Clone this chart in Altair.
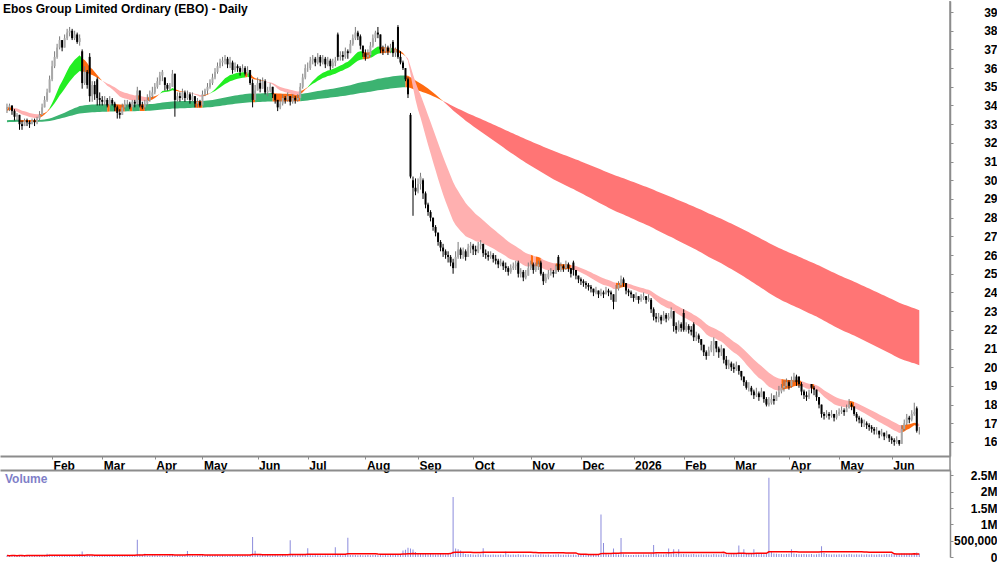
import altair as alt
import pandas as pd
import numpy as np

TITLE = "Ebos Group Limited Ordinary (EBO) - Daily"

# ---- daily bars: (high, low, close), one list per month ----
jan25 = [(34.1,33.6,33.9),(34.1,33.7,34.0),(34.0,33.5,33.7),(33.8,33.2,33.4),(33.6,33.2,33.5),(33.5,32.7,33.0),
         (33.2,32.7,32.9),(33.3,32.9,33.2),(33.3,32.9,33.1),(33.2,32.8,33.0),(33.3,33.0,33.2),(33.3,32.9,33.1),
         (33.4,33.0,33.3),(33.7,33.2,33.5),(34.1,33.5,33.9),(34.5,33.9,34.3),(34.9,34.2,34.7),(35.6,34.7,35.4)]
feb25 = [(36.4,35.3,36.1),(36.9,36.0,36.6),(37.3,36.5,37.1),(37.7,37.0,37.5),(37.5,36.9,37.1),(37.8,37.1,37.6),
         (38.1,37.5,37.9),(38.2,37.7,38.0),(38.1,37.5,37.6),(38.0,37.5,37.8),(37.9,37.3,37.4),(37.8,37.2,37.6),
         (37.0,34.9,35.2),(36.1,35.1,35.8),(35.9,34.9,35.1),(36.8,34.2,34.5),(35.3,34.2,35.1),(35.3,34.3,34.6),
         (35.5,34.0,34.4),(34.7,34.0,34.3)]
mar25 = [(34.5,34.0,34.2),(34.5,34.0,34.3),(34.4,33.9,34.0),(34.5,34.0,34.3),(34.4,34.0,34.1),(34.2,33.7,33.9),
         (34.0,33.3,33.6),(33.8,33.3,33.5),(34.1,33.5,33.9),(34.3,33.8,34.1),(34.3,33.9,34.1),(34.2,33.8,33.9),
         (34.3,33.9,34.2),(34.3,33.9,34.1),(35.0,34.0,34.8),(34.8,33.9,34.0),(34.2,33.8,33.9),(34.3,33.8,34.1),
         (34.6,34.0,34.3),(34.8,34.2,34.5),(35.0,34.4,34.7)]
apr25 = [(35.2,34.6,35.0),(35.5,34.9,35.3),(35.8,35.1,35.6),(35.9,35.3,35.8),(35.5,34.8,35.1),(35.2,34.8,34.9),
         (35.2,34.8,35.0),(35.9,35.5,35.7),(34.6,33.4,34.3),(34.7,34.2,34.5),(34.7,34.2,34.4),(34.9,34.3,34.7),
         (34.8,34.2,34.4),(34.8,34.3,34.6),(34.7,34.1,34.3),(34.7,34.2,34.5),(34.5,33.9,34.1),(34.4,33.9,34.2),
         (34.3,33.9,34.0)]
may25 = [(34.8,34.0,34.6),(34.9,34.5,34.8),(35.2,34.6,35.0),(35.4,34.9,35.2),(35.7,35.1,35.5),(36.0,35.4,35.8),
         (36.3,35.7,36.1),(36.5,36.0,36.3),(36.6,36.1,36.4),(36.7,36.2,36.5),(36.6,36.0,36.2),(36.6,36.0,36.3),
         (36.4,35.7,35.9),(36.3,35.8,36.1),(36.2,35.8,36.0),(36.1,35.6,35.8),(36.2,35.8,36.0),(36.1,35.6,35.7),
         (36.1,35.6,35.9),(35.9,35.1,35.2),(35.4,33.9,34.3),(35.1,34.3,34.8)]
jun25 = [(35.5,34.8,35.2),(35.4,34.7,34.9),(35.5,34.9,35.3),(35.4,34.6,34.7),(35.0,34.5,34.8),(35.2,34.7,35.0),
         (35.0,34.4,34.6),(34.6,34.1,34.3),(34.3,33.7,33.9),(34.3,33.8,34.1),(34.6,34.0,34.4),(34.5,34.1,34.3),
         (34.7,34.2,34.5),(34.5,34.0,34.2),(34.6,34.1,34.4),(34.5,34.1,34.3),(34.6,34.2,34.4),(35.2,34.4,35.0),
         (35.7,34.9,35.5),(36.2,35.4,36.0)]
jul25 = [(36.3,35.8,36.0),(36.6,35.9,36.4),(36.7,36.2,36.5),(36.6,36.1,36.3),(36.8,36.2,36.6),(36.7,36.1,36.3),
         (36.7,36.2,36.5),(36.6,36.0,36.2),(36.6,36.1,36.4),(36.5,35.9,36.1),(36.5,36.0,36.3),(36.6,36.1,36.4),
         (37.9,36.4,36.6),(36.9,36.4,36.7),(36.9,36.4,36.6),(37.1,36.5,36.9),(37.0,36.5,36.8),(37.5,36.8,37.3),
         (37.8,37.2,37.6),(38.2,37.5,37.9),(38.0,37.5,37.7),(37.8,37.0,37.2),(37.2,36.6,36.8)]
aug25 = [(37.0,36.4,36.6),(37.0,36.5,36.7),(37.4,36.6,37.2),(37.8,37.1,37.6),(38.0,37.4,37.9),(38.2,37.6,37.8),
         (37.8,36.8,37.0),(37.2,36.7,36.9),(37.3,36.8,37.1),(37.2,36.7,36.9),(37.3,36.8,37.1),(37.5,36.6,36.8),
         (37.1,36.6,37.0),(38.3,36.5,36.6),(36.9,36.2,36.3),(36.4,35.9,36.0),(36.0,35.3,35.4),(35.5,34.4,34.6),
         (33.6,30.1,30.2),(30.2,28.1,29.6),(30.1,29.2,29.4)]
sep25 = [(30.1,29.3,29.8),(30.4,29.5,30.2),(30.1,29.0,29.3),(29.4,28.5,28.7),(28.8,28.1,28.3),(28.4,27.8,28.0),
         (28.0,27.3,27.5),(27.6,27.0,27.2),(27.2,26.5,26.7),(26.8,26.2,26.4),(26.6,25.9,26.2),(26.3,25.8,26.0),
         (26.2,25.6,25.9),(26.0,25.4,25.6),(25.8,25.0,25.3),(26.2,25.3,25.9),(26.7,25.8,26.3),(26.4,25.8,26.0),
         (26.4,25.8,26.2),(26.3,25.7,25.9),(26.6,25.9,26.4),(26.7,26.1,26.5)]
oct25 = [(26.6,26.0,26.3),(26.5,26.0,26.2),(26.7,26.1,26.5),(26.8,26.3,26.6),(26.6,25.9,26.1),(26.3,25.8,26.0),
         (26.2,25.7,25.9),(26.2,25.8,26.0),(26.1,25.6,25.8),(26.0,25.5,25.7),(25.8,25.3,25.5),(25.8,25.4,25.6),
         (25.7,25.2,25.4),(25.6,25.1,25.3),(25.4,24.9,25.1),(25.5,25.0,25.3),(25.6,25.2,25.4),(25.7,25.2,25.5),
         (25.7,24.8,25.0),(25.3,24.8,25.1),(25.2,24.6,24.8),(25.2,24.7,24.9),(25.6,24.9,25.3)]
nov25 = [(25.7,25.2,25.5),(25.6,25.0,25.2),(25.6,25.1,25.4),(25.7,25.2,25.5),(25.7,24.9,25.0),(25.1,24.4,24.6),
         (25.0,24.5,24.8),(25.2,24.7,25.0),(25.3,24.9,25.1),(25.2,24.8,25.0),(25.5,25.0,25.4),(26.0,25.1,25.2),
         (25.6,25.1,25.4),(25.5,25.1,25.3),(25.7,25.2,25.5),(25.6,25.1,25.3),(25.3,24.8,25.0),(25.7,24.9,25.2),
         (25.2,24.7,24.9),(24.9,24.5,24.7)]
dec25 = [(24.8,24.4,24.6),(24.7,24.3,24.5),(24.6,24.2,24.4),(24.5,24.1,24.3),(24.4,24.0,24.2),(24.2,23.8,24.0),
         (24.3,23.9,24.1),(24.1,23.7,23.9),(24.2,23.8,24.0),(24.1,23.7,23.9),(24.3,23.9,24.1),(24.2,23.8,24.0),
         (24.1,23.6,23.9),(23.9,23.1,23.5),(24.4,23.5,24.2),(24.6,24.1,24.4),(24.9,24.3,24.7),(24.8,24.3,24.5),
         (24.4,23.9,24.1),(24.2,23.8,24.0),(24.1,23.7,23.9)]
jan26 = [(23.9,23.5,23.7),(24.0,23.6,23.8),(23.8,23.4,23.6),(23.9,23.5,23.7),(24.0,23.6,23.8),(23.8,23.4,23.6),
         (23.9,23.5,23.7),(23.7,22.9,23.1),(23.2,22.5,22.7),(22.9,22.4,22.6),(22.9,22.4,22.7),(22.8,22.3,22.5),
         (23.0,22.5,22.8),(22.9,22.4,22.6),(22.9,22.5,22.7),(23.2,22.6,23.0),(23.0,21.9,22.2),(22.4,21.8,22.0),
         (22.5,21.9,22.3),(22.4,21.9,22.1)]
feb26 = [(23.1,21.9,22.0),(22.4,21.9,22.2),(22.3,21.8,22.0),(22.2,21.7,21.9),(22.4,21.4,21.6),(21.9,21.4,21.7),
         (21.8,21.3,21.5),(21.4,20.9,21.2),(21.2,20.6,20.8),(20.9,20.4,20.6),(21.1,20.6,20.9),(21.4,20.8,21.2),
         (21.6,20.6,21.4),(21.4,20.8,21.0),(21.1,20.5,20.8),(21.2,20.6,21.0),(21.0,20.2,20.4),(20.6,19.9,20.1),
         (20.4,19.9,20.2),(20.3,19.8,20.0)]
mar26 = [(20.2,19.7,19.9),(20.3,19.8,20.1),(20.1,19.6,19.8),(19.8,19.3,19.5),(19.5,19.0,19.2),(19.3,18.8,18.9),
         (19.2,18.7,18.9),(19.0,18.5,18.7),(18.8,18.3,18.5),(18.9,18.4,18.6),(18.7,18.2,18.4),(18.9,18.4,18.7),
         (18.7,18.1,18.3),(18.4,17.9,18.0),(18.4,17.9,18.1),(18.6,18.0,18.3),(18.5,18.0,18.2),(18.7,18.2,18.5),
         (19.0,18.4,18.7),(19.1,18.6,18.9),(19.3,18.7,19.0),(19.4,18.9,19.2)]
apr26 = [(19.3,18.8,19.0),(19.5,18.9,19.3),(19.7,19.2,19.5),(19.6,19.0,19.2),(19.5,18.9,19.1),(19.2,18.5,18.7),
         (18.8,18.3,18.5),(18.7,18.2,18.4),(18.8,18.3,18.6),(19.1,18.6,18.9),(19.0,18.5,18.8),(18.8,18.2,18.4),
         (18.4,17.8,18.0),(18.0,17.3,17.5),(17.6,17.2,17.4),(17.7,17.3,17.5),(17.6,17.2,17.4),(17.7,17.3,17.5),
         (17.5,17.1,17.3),(17.7,17.2,17.5)]
may26 = [(17.8,17.4,17.6),(17.9,17.5,17.7),(17.8,17.4,17.6),(18.0,17.6,17.8),(18.3,17.8,18.0),(18.1,17.7,17.9),
         (17.9,17.4,17.5),(17.6,17.1,17.3),(17.4,17.0,17.2),(17.3,16.8,17.0),(17.2,16.8,17.0),(17.1,16.7,16.9),
         (17.0,16.6,16.8),(16.9,16.5,16.7),(16.8,16.4,16.6),(16.8,16.4,16.6),(16.6,16.2,16.4),(16.7,16.3,16.5),
         (16.5,16.1,16.3),(16.6,16.2,16.4),(16.4,16.0,16.2)]
jun26 = [(16.3,15.9,16.1),(16.2,15.8,16.0),(16.3,15.9,16.1),(16.1,15.8,15.9),(16.9,16.1,16.7),(17.2,16.6,17.0),
         (17.5,16.9,17.3),(17.4,17.0,17.2),(17.7,17.1,17.5),(18.1,17.4,17.6),(17.9,16.5,16.6),(16.8,16.4,16.6)]

# opens that gap away from the previous close (bar index -> open)
FIRST_OPEN = 33.8
gap_opens = {30: 36.9, 33: 36.6, 36: 35.4, 63: 35.5, 132: 37.8, 154: 37.4, 156: 38.2, 161: 33.5,
             162: 30.0, 166: 30.0, 204: 25.6, 213: 25.6, 220: 25.9, 226: 25.6, 257: 23.6, 266: 23.0,
             270: 22.9, 274: 22.3, 286: 21.0, 316: 19.5, 321: 19.1, 363: 17.8}

# ---- daily volume (thousands), one list per month ----
vjan25 = [45, 38, 52, 40, 35, 48, 42, 36, 50, 44, 39, 47, 41, 55, 62, 58, 100, 70]
vfeb25 = [65, 58, 52, 48, 60, 55, 47, 50, 62, 45, 72, 85, 170, 60, 78, 55, 50, 46, 58, 52]
vmar25 = [44, 40, 48, 42, 39, 51, 46, 43, 38, 47, 41, 45, 50, 42, 530, 75, 60, 100, 48, 44, 52]
vapr25 = [50, 46, 55, 42, 48, 44, 58, 61, 47, 43, 52, 40, 45, 185, 49, 44, 41, 47, 50]
vmay25 = [52, 48, 55, 60, 46, 58, 50, 44, 53, 47, 42, 56, 49, 45, 51, 43, 48, 54, 46, 62, 610, 190]
vjun25 = [70, 58, 64, 55, 60, 52, 57, 62, 54, 49, 58, 53, 47, 510, 60, 55, 50, 64, 72, 80]
vjul25 = [265, 62, 55, 58, 50, 53, 47, 56, 52, 49, 55, 300, 70, 58, 52, 60, 590, 65, 62, 58, 54, 60, 57]
vaug25 = [55, 58, 52, 60, 64, 57, 62, 55, 59, 53, 61, 66, 58, 72, 95, 200, 220, 280, 260, 230, 150]
vsep25 = [120, 105, 98, 90, 85, 92, 88, 80, 86, 94, 82, 78, 90, 85, 1840, 260, 240, 200, 120, 95, 88, 84]
voct25 = [76, 70, 82, 74, 265, 78, 68, 72, 80, 66, 71, 75, 69, 170, 73, 67, 77, 70, 82, 68, 74, 71, 65]
vnov25 = [72, 66, 78, 70, 85, 74, 68, 73, 65, 70, 76, 82, 69, 72, 67, 75, 71, 80, 68, 74]
vdec25 = [78, 72, 80, 75, 70, 82, 76, 74, 1300, 430, 95, 80, 85, 260, 90, 78, 580, 88, 70, 65, 60]
vjan26 = [62, 68, 70, 66, 74, 72, 78, 95, 370, 110, 85, 80, 76, 90, 260, 88, 240, 92, 240, 85]
vfeb26 = [95, 82, 78, 86, 90, 75, 80, 84, 77, 88, 74, 79, 92, 81, 76, 83, 98, 87, 80, 85]
vmar26 = [90, 85, 350, 110, 240, 95, 100, 92, 240, 105, 98, 90, 88, 96, 2430, 150, 110, 100, 95, 92, 88, 94]
vapr26 = [96, 240, 110, 92, 88, 85, 90, 82, 86, 94, 80, 88, 96, 330, 120, 90, 84, 80, 86, 78]
vmay26 = [82, 78, 85, 80, 92, 88, 76, 84, 79, 81, 74, 86, 77, 83, 80, 75, 82, 79, 85, 90, 88]
vjun26 = [92, 85, 88, 95, 110, 105, 98, 102, 94, 120, 140, 100]

months = [jan25, feb25, mar25, apr25, may25, jun25, jul25, aug25, sep25, oct25, nov25, dec25,
          jan26, feb26, mar26, apr26, may26, jun26]
vol_months = [vjan25, vfeb25, vmar25, vapr25, vmay25, vjun25, vjul25, vaug25, vsep25, voct25, vnov25,
              vdec25, vjan26, vfeb26, vmar26, vapr26, vmay26, vjun26]
month_tick_labels = ["Feb", "Mar", "Apr", "May", "Jun", "Jul", "Aug", "Sep", "Oct", "Nov", "Dec",
                     "2026", "Feb", "Mar", "Apr", "May", "Jun"]
price_ticks = list(range(16, 40))
vol_ticks = [0, 500000, 1000000, 1500000, 2000000, 2500000]

# moving-average periods and starting values read at the first bar
SHORT_FAST, SHORT_SLOW = 16, 29
LONG_FAST, LONG_SLOW = 135, 240
SEEDS = {"sf": 33.7, "ss": 33.9, "lf": 33.2, "ls": 33.1}

# ---- build the table ----
rows, month_starts, idx = [], [], 0
for m, vols in zip(months, vol_months):
    month_starts.append(idx)
    for (h, l, c), v in zip(m, vols):
        rows.append(dict(i=idx, high=h, low=l, close=c, vol=v * 1000))
        idx += 1
df = pd.DataFrame(rows)
n = len(df)
opens = [FIRST_OPEN] + df["close"].tolist()[:-1]
for k, v in gap_opens.items():
    opens[k] = v
df["open"] = opens
df["high"] = df[["high", "open", "close"]].max(axis=1)
df["low"] = df[["low", "open", "close"]].min(axis=1)
df["volma"] = df["vol"].rolling(50, min_periods=1).mean()


def ema(vals, period, seed):
    a = 2.0 / (period + 1)
    e, out = seed, []
    for v in vals:
        e = e + a * (v - e)
        out.append(e)
    return out


closes = df["close"].tolist()
sf = ema(closes, SHORT_FAST, SEEDS["sf"])
ss = ema(closes, SHORT_SLOW, SEEDS["ss"])
lf = ema(closes, LONG_FAST, SEEDS["lf"])
ls = ema(closes, LONG_SLOW, SEEDS["ls"])


def ribbon(fast, slow, prefix):
    out, seg, prev = [], 0, None
    for i in range(len(fast)):
        rising = i == 0 or fast[i] >= fast[i - 1]
        if fast[i] >= slow[i] and rising:
            st = "up"
        elif fast[i] < slow[i] and not rising:
            st = "down"
        else:
            st = "mix"
        st = prefix + st
        lo, hi = min(fast[i], slow[i]), max(fast[i], slow[i])
        if prev is not None and st != prev:
            out.append(dict(i=i, lo=lo, hi=hi, seg=f"{prefix}{seg}", state=prev))
            seg += 1
        out.append(dict(i=i, lo=lo, hi=hi, seg=f"{prefix}{seg}", state=st))
        prev = st
    return out


rib_long = pd.DataFrame(ribbon(lf, ls, "l_"))
rib_short = pd.DataFrame(ribbon(sf, ss, "s_"))

# ---- scales / axes ----
PX = 950
xscale = alt.Scale(domain=[-0.79, 374.26], nice=False, zero=False)
yscale = alt.Scale(domain=[15.25, 39.59], nice=False, zero=False)
vscale = alt.Scale(domain=[0, 2667000], nice=False, zero=False)
GRAY = "#8c8c8c"
FONT = "Liberation Sans"

tick_vals = month_starts[1:]
label_expr = ("[" + ",".join(f"'{s}'" for s in month_tick_labels) + "][indexof(["
              + ",".join(str(v) for v in tick_vals) + "], datum.value)]")

xaxis_price = alt.Axis(values=tick_vals, labelExpr=label_expr, orient="bottom", grid=False, title=None,
                       domainColor=GRAY, domainWidth=2, tickColor=GRAY, tickSize=3, labelAlign="left",
                       labelOffset=1, labelPadding=1, labelFontSize=12, labelFontWeight="bold",
                       labelColor="#000000", labelFont=FONT, labelBaseline="top", labelFlush=False)
yaxis_price = alt.Axis(values=price_ticks, orient="right", grid=False, title=None, domainColor=GRAY,
                       domainWidth=1.5, tickColor=GRAY, tickSize=3, labelAlign="right", labelPadding=44,
                       labelFontSize=12, labelFontWeight="bold", labelColor="#000000", labelFont=FONT,
                       labelBaseline="middle")

X = alt.X("i:Q", scale=xscale, axis=xaxis_price)

state_scale = alt.Scale(domain=["s_up", "s_down", "s_mix", "l_up", "l_down", "l_mix"],
                        range=["#22ee22", "#ffb0b0", "#ff6a10", "#3cb371", "#ff7575", "#ff6a10"])

long_area = alt.Chart(rib_long).mark_area(opacity=1, strokeWidth=0).encode(
    x=X, y=alt.Y("lo:Q", scale=yscale, axis=yaxis_price), y2="hi:Q",
    color=alt.Color("state:N", scale=state_scale, legend=None), detail="seg:N")
short_area = alt.Chart(rib_short).mark_area(opacity=1, strokeWidth=0).encode(
    x=X, y=alt.Y("lo:Q", scale=yscale, axis=yaxis_price), y2="hi:Q",
    color=alt.Color("state:N", scale=state_scale, legend=None), detail="seg:N")

up = "datum.close >= datum.open"
wicks = alt.Chart(df).mark_rule(strokeWidth=1).encode(
    x=X, y=alt.Y("low:Q", scale=yscale, axis=yaxis_price), y2="high:Q",
    color=alt.condition(up, alt.value("#7a7a7a"), alt.value("#000000")))
bodies = alt.Chart(df).mark_bar(size=2).encode(
    x=X, y=alt.Y("open:Q", scale=yscale, axis=yaxis_price), y2="close:Q",
    color=alt.condition(up, alt.value("#a8a8a8"), alt.value("#000000")))

title_text = alt.Chart(pd.DataFrame({"t": [TITLE]})).mark_text(
    align="left", baseline="middle", font=FONT, fontSize=12, fontWeight="bold", color="#000000").encode(
    text="t:N", x=alt.value(3), y=alt.value(8))
border = alt.Chart(pd.DataFrame({"a": [0]})).mark_rule(color=GRAY, strokeWidth=1.5).encode(
    x=alt.value(PX), y=alt.value(0), y2=alt.value(470))

price = alt.layer(long_area, short_area, wicks, bodies, title_text, border).properties(width=PX, height=455)

# ---- volume panel ----
xaxis_vol = alt.Axis(orient="top", labels=False, ticks=False, grid=False, title=None, domainColor=GRAY,
                     domainWidth=2)
yaxis_vol = alt.Axis(values=vol_ticks, orient="right", grid=False, title=None, domainColor=GRAY,
                     domainWidth=1.5, tickColor=GRAY, tickSize=3, labelAlign="right", labelPadding=44,
                     labelFontSize=12, labelFontWeight="bold", labelColor="#000000", labelFont=FONT,
                     labelBaseline="middle",
                     labelExpr="datum.value >= 1000000 ? (datum.value / 1000000) + 'M' : format(datum.value, ',')")
XV = alt.X("i:Q", scale=xscale, axis=xaxis_vol)
vol_bars = alt.Chart(df).mark_bar(size=1, color="#8b8bdc").encode(
    x=XV, y=alt.Y("vol:Q", scale=vscale, axis=yaxis_vol))
vol_ma = alt.Chart(df).mark_line(color="#ff0000", strokeWidth=1.5).encode(
    x=XV, y=alt.Y("volma:Q", scale=vscale, axis=yaxis_vol))
vol_text = alt.Chart(pd.DataFrame({"t": ["Volume"]})).mark_text(
    align="left", baseline="middle", font=FONT, fontSize=12, fontWeight="bold", color="#7f7fc8").encode(
    text="t:N", x=alt.value(5), y=alt.value(9))
volume = alt.layer(vol_bars, vol_ma, vol_text).properties(width=PX, height=87)

chart = alt.vconcat(price, volume, spacing=14, bounds="flush").properties(padding=0).configure_view(
    strokeWidth=0)

chart.save("out.html", embed_options={"renderer": "svg", "actions": False})
